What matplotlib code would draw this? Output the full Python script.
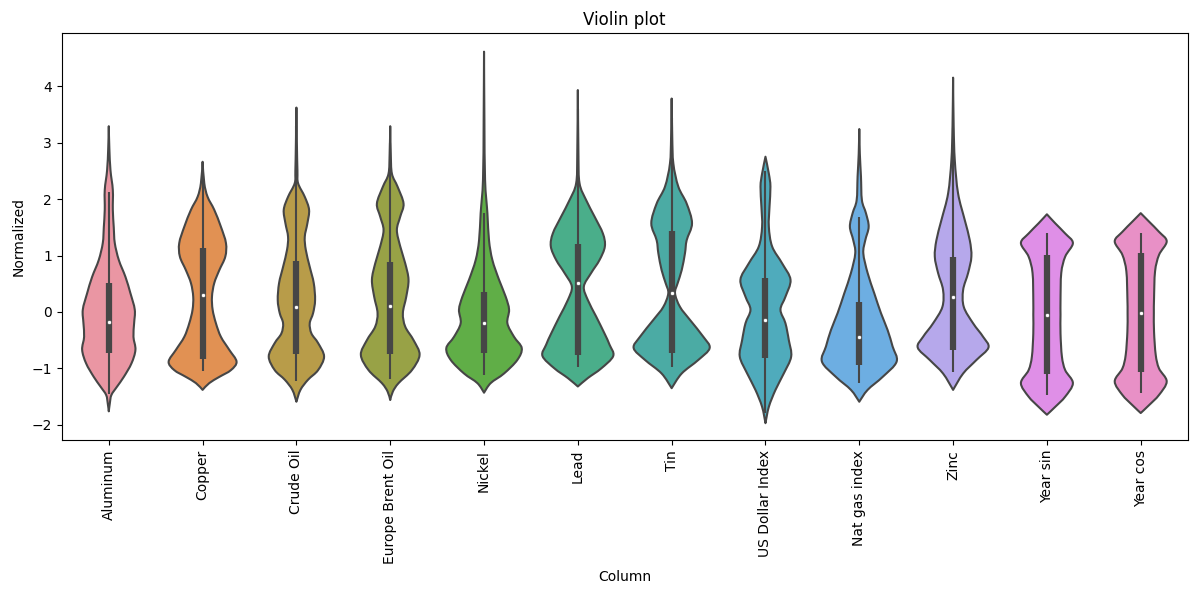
import colorsys
import numpy as np
import matplotlib
matplotlib.use("Agg")
import matplotlib.pyplot as plt
import matplotlib.colors as mcolors
from matplotlib.path import Path
from matplotlib.patches import PathPatch
import seaborn as sns

columns = ["Aluminum", "Copper", "Crude Oil", "Europe Brent Oil", "Nickel", "Lead",
           "Tin", "US Dollar Index", "Nat gas index", "Zinc", "Year sin", "Year cos"]

# Density outlines: normalized value (y) and violin half-width (x units)
aluminum_y = [-1.76, -1.62, -1.47, -1.32, -1.15, -0.91, -0.67, -0.44, -0.2, 0.04, 0.33, 0.62, 0.92, 1.22, 1.5, 1.81, 2.16, 2.51, 2.9, 3.29]
aluminum_w = [0, 0.011, 0.028, 0.089, 0.16, 0.242, 0.284, 0.263, 0.27, 0.277, 0.231, 0.178, 0.107, 0.064, 0.053, 0.043, 0.043, 0.018, 0.006, 0]

copper_y = [-1.38, -1.26, -1.15, -1.03, -0.88, -0.67, -0.44, -0.2, 0.04, 0.27, 0.51, 0.74, 0.98, 1.22, 1.51, 1.81, 2.04, 2.28, 2.66]
copper_w = [0, 0.071, 0.178, 0.302, 0.362, 0.284, 0.195, 0.142, 0.107, 0.1, 0.124, 0.178, 0.242, 0.249, 0.195, 0.124, 0.053, 0.018, 0]

crude_y = [-1.59, -1.38, -1.2, -1.03, -0.79, -0.55, -0.38, -0.2, -0.02, 0.21, 0.51, 0.80, 1.10, 1.33, 1.57, 1.81, 2.04, 2.28, 2.5, 3.0, 3.62]
crude_w = [0, 0.043, 0.124, 0.231, 0.295, 0.231, 0.16, 0.142, 0.178, 0.199, 0.185, 0.142, 0.1, 0.089, 0.117, 0.135, 0.089, 0.018, 0.011, 0.005, 0]

brent_y = [-1.56, -1.41, -1.26, -1.03, -0.76, -0.5, -0.26, -0.02, 0.27, 0.57, 0.86, 1.16, 1.45, 1.69, 1.92, 2.22, 2.45, 2.8, 3.29]
brent_w = [0, 0.028, 0.089, 0.231, 0.313, 0.249, 0.16, 0.135, 0.171, 0.195, 0.16, 0.107, 0.071, 0.107, 0.142, 0.078, 0.018, 0.006, 0]

nickel_y = [-1.43, -1.26, -1.09, -0.85, -0.64, -0.44, -0.2, 0.04, 0.27, 0.57, 0.92, 1.27, 1.75, 2.34, 3.4, 4.61]
nickel_w = [0, 0.071, 0.213, 0.355, 0.402, 0.32, 0.249, 0.267, 0.231, 0.16, 0.089, 0.053, 0.036, 0.011, 0.004, 0]

lead_y = [-1.32, -1.17, -1.0, -0.78, -0.58, -0.38, -0.08, 0.21, 0.45, 0.69, 0.92, 1.16, 1.39, 1.69, 1.98, 2.28, 2.8, 3.93]
lead_w = [0, 0.107, 0.249, 0.377, 0.338, 0.284, 0.195, 0.107, 0.064, 0.142, 0.231, 0.288, 0.267, 0.178, 0.089, 0.018, 0.006, 0]

tin_y = [-1.35, -1.09, -0.85, -0.64, -0.44, -0.14, 0.09, 0.33, 0.51, 0.74, 1.04, 1.27, 1.57, 1.92, 2.22, 2.63, 3.1, 3.78]
tin_w = [0, 0.107, 0.284, 0.405, 0.338, 0.195, 0.089, 0.036, 0.064, 0.107, 0.142, 0.16, 0.217, 0.16, 0.071, 0.018, 0.006, 0]

usd_y = [-1.97, -1.68, -1.38, -1.09, -0.79, -0.5, -0.2, 0.04, 0.27, 0.57, 0.86, 1.16, 1.51, 1.86, 2.22, 2.45, 2.75]
usd_w = [0, 0.036, 0.107, 0.195, 0.274, 0.249, 0.213, 0.16, 0.213, 0.267, 0.178, 0.071, 0.036, 0.043, 0.053, 0.036, 0]

natgas_y = [-1.59, -1.38, -1.15, -0.88, -0.61, -0.32, -0.02, 0.33, 0.69, 1.04, 1.27, 1.51, 1.75, 1.98, 2.40, 2.8, 3.24]
natgas_w = [0, 0.089, 0.249, 0.398, 0.355, 0.302, 0.231, 0.16, 0.089, 0.043, 0.064, 0.1, 0.071, 0.028, 0.018, 0.006, 0]

zinc_y = [-1.38, -1.09, -0.85, -0.63, -0.44, -0.2, 0.09, 0.39, 0.69, 0.98, 1.27, 1.63, 2.10, 2.69, 3.3, 4.15]
zinc_w = [0, 0.107, 0.249, 0.377, 0.32, 0.213, 0.114, 0.107, 0.16, 0.195, 0.178, 0.124, 0.053, 0.018, 0.006, 0]

yearsin_y = [-1.82, -1.68, -1.5, -1.26, -1.03, -0.79, -0.38, -0.05, 0.21, 0.69, 0.98, 1.22, 1.39, 1.57, 1.73]
yearsin_w = [0, 0.089, 0.195, 0.277, 0.195, 0.16, 0.145, 0.145, 0.145, 0.153, 0.195, 0.277, 0.195, 0.089, 0]

yearcos_y = [-1.79, -1.65, -1.47, -1.23, -1.0, -0.76, -0.35, -0.02, 0.24, 0.72, 1.01, 1.25, 1.42, 1.60, 1.75]
yearcos_w = [0, 0.089, 0.195, 0.277, 0.195, 0.16, 0.142, 0.14, 0.142, 0.153, 0.195, 0.277, 0.195, 0.089, 0]

# Box summaries per column
q1 = [-0.72, -0.84, -0.74, -0.75, -0.72, -0.76, -0.72, -0.82, -0.94, -0.68, -1.09, -1.06]
median = [-0.17, 0.30, 0.08, 0.10, -0.20, 0.52, 0.33, -0.14, -0.44, 0.27, -0.05, -0.02]
q3 = [0.51, 1.14, 0.91, 0.89, 0.35, 1.20, 1.44, 0.60, 0.17, 0.97, 1.01, 1.04]
whisker_lo = [-1.45, -1.04, -1.23, -1.19, -1.12, -0.97, -0.97, -1.79, -1.26, -1.06, -1.47, -1.44]
whisker_hi = [2.13, 2.40, 3.30, 3.00, 1.76, 3.60, 3.43, 2.50, 1.69, 3.25, 1.39, 1.40]

outline_y = [aluminum_y, copper_y, crude_y, brent_y, nickel_y, lead_y,
             tin_y, usd_y, natgas_y, zinc_y, yearsin_y, yearcos_y]
outline_w = [aluminum_w, copper_w, crude_w, brent_w, nickel_w, lead_w,
             tin_w, usd_w, natgas_w, zinc_w, yearsin_w, yearcos_w]

palette = [sns.desaturate(c, 0.75) for c in sns.husl_palette(len(columns), l=0.7)]
lum = min(colorsys.rgb_to_hls(*c)[1] for c in palette) * 0.6
gray = mcolors.rgb2hex((lum, lum, lum))


def smooth_side(points):
    """Bezier segments running through every point of one violin side."""
    pts = np.asarray(points, dtype=float)
    n = len(pts)
    verts, codes = [], []
    for i in range(n - 1):
        p0 = pts[max(i - 1, 0)]
        p1 = pts[i]
        p2 = pts[i + 1]
        p3 = pts[min(i + 2, n - 1)]
        verts += [p1 + (p2 - p0) / 6.0, p2 - (p3 - p1) / 6.0, p2]
        codes += [Path.CURVE4] * 3
    return verts, codes


def violin_path(center, ys, ws):
    right = [(center + w, y) for y, w in zip(ys, ws)]
    left = [(center - w, y) for y, w in zip(ys, ws)][::-1]
    verts = [right[0]]
    codes = [Path.MOVETO]
    v, c = smooth_side(right)
    verts += v
    codes += c
    v, c = smooth_side(left)
    verts += v
    codes += c
    verts.append(right[0])
    codes.append(Path.CLOSEPOLY)
    return Path(verts, codes)


fig = plt.figure(figsize=(11.9, 5.9), dpi=100)
ax = fig.add_axes([0.052, 0.254, 0.946, 0.69])

positions = list(range(len(columns)))
for pos, ys, ws, color in zip(positions, outline_y, outline_w, palette):
    ax.add_patch(PathPatch(violin_path(pos, ys, ws), facecolor=color,
                           edgecolor=gray, linewidth=1.5, joinstyle="round",
                           zorder=1))

ax.vlines(positions, whisker_lo, whisker_hi, color=gray, linewidth=1.5, zorder=2)
ax.vlines(positions, q1, q3, color=gray, linewidth=4.5, zorder=2)
ax.scatter(positions, median, s=9, color="white", edgecolor=gray, linewidth=0.5, zorder=3)

ax.set_xlim(-0.5, len(columns) - 0.5)
ax.set_ylim(-2.27, 4.94)
ax.set_xticks(positions)
ax.set_xticklabels(columns, rotation=90)
ax.set_yticks([-2, -1, 0, 1, 2, 3, 4])
ax.set_xlabel("Column")
ax.set_ylabel("Normalized")
ax.set_title("Violin plot")

fig.savefig("out.png", dpi=100)
